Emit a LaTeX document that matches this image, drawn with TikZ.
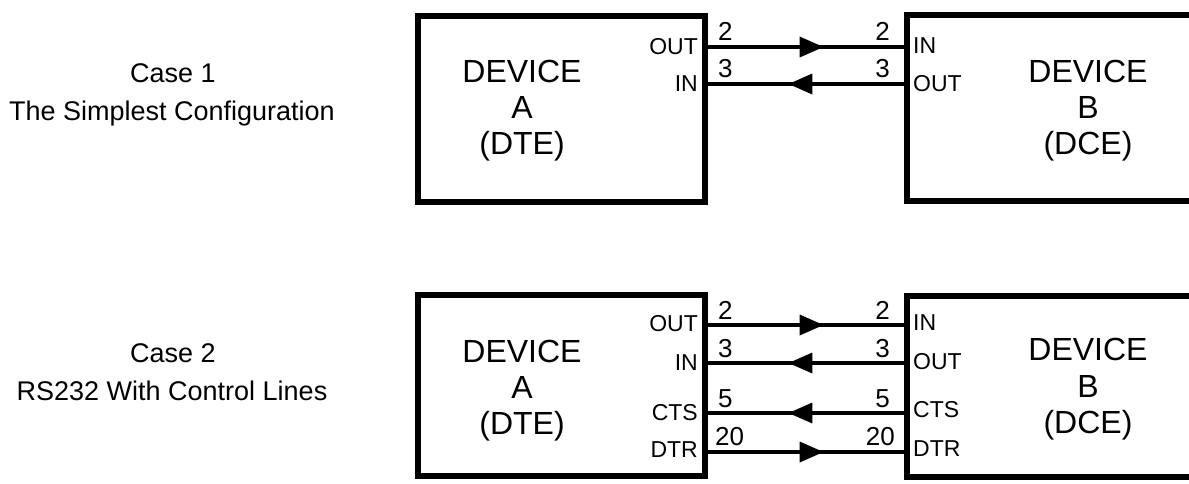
\documentclass[tikz,border=0pt]{standalone}
\usepackage{fontspec}
\setmainfont{Liberation Sans}
\usetikzlibrary{arrows.meta,decorations.markings}
\begin{document}
\begin{tikzpicture}[x=1pt,y=-1pt,
  dev/.style={draw,line width=6pt,rectangle,inner sep=0pt},
  big/.style={font=\fontsize{32}{37}\selectfont,anchor=base,inner sep=0pt},
  pinA/.style={font=\fontsize{23}{25}\selectfont,anchor=east,inner sep=0pt},
  pinB/.style={font=\fontsize{23}{25}\selectfont,anchor=west,inner sep=0pt},
  numL/.style={font=\fontsize{26}{28}\selectfont,anchor=base west,inner sep=0pt},
  numR/.style={font=\fontsize{26}{28}\selectfont,anchor=base east,inner sep=0pt},
  captxt/.style={font=\fontsize{27}{30}\selectfont,anchor=base,inner sep=0pt},
  wire/.style={line width=3.5pt},
  mid/.style={wire,postaction={decorate},decoration={markings,
     mark=at position 0.59 with {\arrow{Triangle[length=24pt,width=20pt]}}}}
]
\useasboundingbox (0,0) rectangle (1189,483);
\clip (0,0) rectangle (1189,483);

% ---------- Case 1 ----------
\node[captxt] (c1a) at (173,82) {Case 1};
\node[captxt] (c1b) at (172,120) {The Simplest Configuration};

\node[dev,minimum width=287pt,minimum height=186pt] (A1) at (561.5,109) {};
\node[dev,minimum width=343pt,minimum height=186pt] (B1) at (1078.5,108) {};

\node[big] (A1d) at (522,82) {DEVICE};
\node[big] (A1n) at (522,118) {A};
\node[big] (A1t) at (522,154) {(DTE)};
\node[big] (B1d) at (1088,82) {DEVICE};
\node[big] (B1n) at (1088,118) {B};
\node[big] (B1t) at (1088,154) {(DCE)};

\coordinate (r1) at (0,47);
\coordinate (r2) at (0,84);

\node[pinA] (A1o) at (698,47) {OUT};
\node[pinA] (A1i) at (698,84) {IN};
\node[pinB] (B1i) at (913,46) {IN};
\node[pinB] (B1o) at (913,84) {OUT};

\node[numL] (n1a) at (718,40) {2};
\node[numL] (n1b) at (718,77) {3};
\node[numR] (n1c) at (890,40) {2};
\node[numR] (n1d) at (890,77) {3};

\draw[mid] (A1.east |- r1) -- (B1.west |- r1);
\draw[mid] (B1.west |- r2) -- (A1.east |- r2);

% ---------- Case 2 ----------
\node[captxt] (c2a) at (173,362) {Case 2};
\node[captxt] (c2b) at (172,400) {RS232 With Control Lines};

\node[dev,minimum width=287pt,minimum height=181pt] (A2) at (561.5,385.5) {};
\node[dev,minimum width=343pt,minimum height=181pt] (B2) at (1078.5,386.5) {};

\node[big] (A2d) at (522,362) {DEVICE};
\node[big] (A2n) at (522,398) {A};
\node[big] (A2t) at (522,434) {(DTE)};
\node[big] (B2d) at (1088,360) {DEVICE};
\node[big] (B2n) at (1088,397) {B};
\node[big] (B2t) at (1088,433) {(DCE)};

\coordinate (s1) at (0,325);
\coordinate (s2) at (0,363);
\coordinate (s3) at (0,413);
\coordinate (s4) at (0,452);

\node[pinA] (A2o) at (698,324) {OUT};
\node[pinA] (A2i) at (698,363) {IN};
\node[pinA] (A2c) at (698,413) {CTS};
\node[pinA] (A2r) at (698,450) {DTR};
\node[pinB] (B2i) at (913,323) {IN};
\node[pinB] (B2o) at (913,362) {OUT};
\node[pinB] (B2c) at (913,410) {CTS};
\node[pinB] (B2r) at (913,449) {DTR};

\node[numL] (n2a) at (718,319) {2};
\node[numL] (n2b) at (718,357) {3};
\node[numL] (n2c) at (718,407) {5};
\node[numL] (n2d) at (715,445) {20};
\node[numR] (n2e) at (890,319) {2};
\node[numR] (n2f) at (890,357) {3};
\node[numR] (n2g) at (890,407) {5};
\node[numR] (n2h) at (895,445) {20};

\draw[mid] (A2.east |- s1) -- (B2.west |- s1);
\draw[mid] (B2.west |- s2) -- (A2.east |- s2);
\draw[mid] (B2.west |- s3) -- (A2.east |- s3);
\draw[mid] (A2.east |- s4) -- (B2.west |- s4);
\end{tikzpicture}
\end{document}
